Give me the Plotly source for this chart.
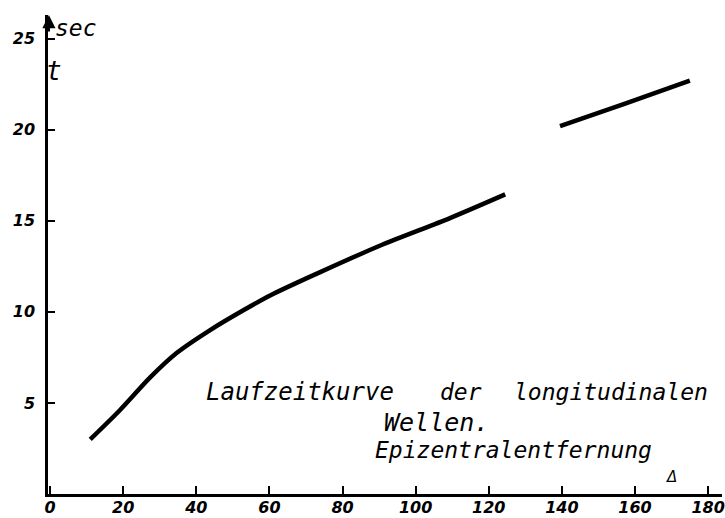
import plotly.graph_objects as go

# Travel-time curve of longitudinal waves
dist_near = [11, 19.1, 27.4, 34.7, 43.8, 53, 60.2, 73, 91, 109.4, 124.5]
time_near = [3.0, 4.6, 6.4, 7.75, 9.0, 10.1, 10.9, 12.1, 13.7, 15.15, 16.45]
dist_far = [139.5, 157.5, 175]
time_far = [20.2, 21.45, 22.7]

x_ticks = [0, 20, 40, 60, 80, 100, 120, 140, 160, 180]
y_ticks = [5, 10, 15, 20, 25]

FONT = "DejaVu Sans"
HAND = "DejaVu Sans Mono"

fig = go.Figure()
for xs, ys in [(dist_near, time_near), (dist_far, time_far)]:
    fig.add_trace(go.Scatter(x=xs, y=ys, mode="lines",
                             line=dict(color="black", width=4.5, shape="spline", smoothing=0.8),
                             showlegend=False, hoverinfo="skip"))

tickfont = dict(family=FONT, size=16, color="black", style="italic", weight="bold")

fig.update_layout(
    width=725, height=518,
    margin=dict(l=48, r=3, t=15, b=24),
    paper_bgcolor="white", plot_bgcolor="white",
    xaxis=dict(range=[-0.55, 183.8], tickvals=x_ticks, ticktext=[str(v) for v in x_ticks],
               ticks="inside", ticklen=8, tickwidth=1.5, tickcolor="black",
               showline=True, linecolor="black", linewidth=2.5, automargin=False,
               ticklabeloverflow="allow",
               showgrid=False, zeroline=False, tickfont=tickfont, ticklabelstandoff=-3),
    yaxis=dict(range=[0, 26.3], tickvals=y_ticks, ticktext=[str(v) for v in y_ticks],
               ticks="inside", ticklen=7, tickwidth=1.5, tickcolor="black",
               showline=True, linecolor="black", linewidth=2.5, automargin=False,
               ticklabeloverflow="allow",
               showgrid=False, zeroline=False, tickfont=tickfont, ticklabelstandoff=7),
)

txt = dict(family=HAND, color="black", style="italic")
ann = [
    dict(x=42.0, y=5.6, text="Laufzeitkurve", xanchor="left", font=dict(size=24, **txt)),
    dict(x=106.0, y=5.6, text="der", xanchor="left", font=dict(size=23, **txt)),
    dict(x=126.4, y=5.6, text="longitudinalen", xanchor="left", font=dict(size=23, **txt)),
    dict(x=90.8, y=3.95, text="Wellen.", xanchor="left", font=dict(size=25, **txt)),
    dict(x=88.3, y=2.4, text="Epizentralentfernung", xanchor="left", font=dict(size=23, **txt)),
    dict(x=170, y=0.95, text="Δ", xanchor="center", font=dict(size=15, family=FONT,
                                                             color="black", style="italic")),
    dict(x=0.8, y=25.6, text="sec", xanchor="left", font=dict(size=23, **txt)),
    dict(x=1.2, y=23.2, text="t", xanchor="center", font=dict(size=26, **txt)),
]
for a in ann:
    fig.add_annotation(xref="x", yref="y", showarrow=False, yanchor="middle", **a)

# arrowhead on top of the time axis
fig.add_annotation(xref="x", yref="y", x=-0.3, y=26.3, ax=0, ay=18, text="",
                   showarrow=True, arrowhead=2, arrowsize=1.2, arrowwidth=2.2,
                   arrowcolor="black")

fig.write_html("out.html", config={"displayModeBar": False},
               post_script="document.body.style.margin='0';")
